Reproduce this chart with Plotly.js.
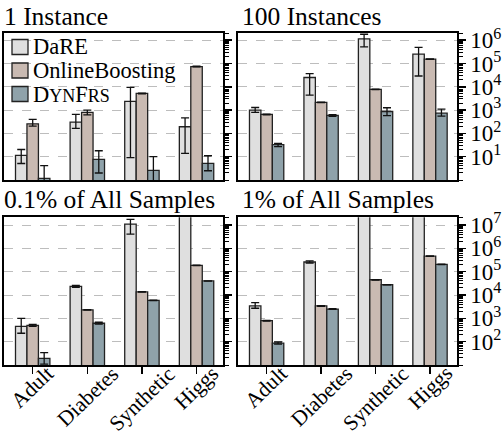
<!DOCTYPE html>
<html>
<head>
<meta charset="utf-8">
<script src="https://cdn.plot.ly/plotly-3.0.1.min.js"></script>
<style>html,body{margin:0;padding:0;background:#fff;}#chart{width:503px;height:442px;}</style>
</head>
<body>
<div id="chart"></div>
<script>
// ---------- data ----------
const categories = ['Adult', 'Diabetes', 'Synthetic', 'Higgs'];
const seriesNames = ['DaRE', 'OnlineBoosting', 'D<span style="font-size:18px">YN</span>F<span style="font-size:18px">RS</span>'];
const panelTitles = ['1 Instance', '100 Instances', '0.1% of All Samples', '1% of All Samples'];

// 1 Instance
const dare1 = [11.4, 307, 2360, 193];
const dare1Lo = [5.1, 163, 9.1, 14];
const dare1Hi = [20.4, 650, 9400, 465];
const ob1 = [258, 794, 5200, 74000];
const ob1Lo = [205, 620, 5000, 72000];
const ob1Hi = [400, 1000, 5400, 76000];
const dyn1 = [1.18, 7.7, 2.6, 5.2];
const dyn1Lo = [0.3, 2.0, 0.3, 2.5];
const dyn1Hi = [4.1, 18, 10, 11];

// 100 Instances
const dare2 = [1000, 25000, 1140000, 250000];
const dare2Lo = [800, 4400, 520000, 29000];
const dare2Hi = [1290, 37000, 1800000, 490000];
const ob2 = [650, 2140, 7700, 154000];
const ob2Lo = [630, 2080, 7500, 150000];
const ob2Hi = [670, 2200, 7900, 158000];
const dyn2 = [32.7, 590, 870, 740];
const dyn2Lo = [27, 540, 575, 550];
const dyn2Hi = [37, 640, 1260, 1100];

// 0.1% of All Samples
const dare3 = [455, 23500, 11000000, 100000000];
const dare3Lo = [230, 21500, 4100000, null];
const dare3Hi = [1000, 25500, 17500000, null];
const ob3 = [500, 2300, 13500, 186000];
const ob3Lo = [450, 2250, 13200, 182000];
const ob3Hi = [550, 2350, 13800, 190000];
const dyn3 = [19.4, 615, 5900, 40000];
const dyn3Lo = [11, 560, 5800, 39500];
const dyn3Hi = [34, 680, 6000, 40500];

// 1% of All Samples
const dare4 = [3400, 260000, 100000000, 100000000];
const dare4Lo = [2700, 235000, null, null];
const dare4Hi = [4700, 290000, null, null];
const ob4 = [790, 3400, 45000, 460000];
const ob4Lo = [760, 3300, 44000, 450000];
const ob4Hi = [820, 3500, 46000, 470000];
const dyn4 = [87, 2500, 27500, 206000];
const dyn4Lo = [78, 2400, 27000, 202000];
const dyn4Hi = [97, 2600, 28000, 210000];

const topTickVals = [10, 100, 1000, 10000, 100000, 1000000];
const topTickText = ['10<sup>1</sup>', '10<sup>2</sup>', '10<sup>3</sup>', '10<sup>4</sup>', '10<sup>5</sup>', '10<sup>6</sup>'];
const botTickVals = [100, 1000, 10000, 100000, 1000000, 10000000];
const botTickText = ['10<sup>2</sup>', '10<sup>3</sup>', '10<sup>4</sup>', '10<sup>5</sup>', '10<sup>6</sup>', '10<sup>7</sup>'];

// ---------- style ----------
const colors = ['#dfdfdf', '#c9bab2', '#8fa2aa'];
const FONT = "'Liberation Serif', 'Times New Roman', serif";

const panels = [
  [[dare1, dare1Lo, dare1Hi], [ob1, ob1Lo, ob1Hi], [dyn1, dyn1Lo, dyn1Hi]],
  [[dare2, dare2Lo, dare2Hi], [ob2, ob2Lo, ob2Hi], [dyn2, dyn2Lo, dyn2Hi]],
  [[dare3, dare3Lo, dare3Hi], [ob3, ob3Lo, ob3Hi], [dyn3, dyn3Lo, dyn3Hi]],
  [[dare4, dare4Lo, dare4Hi], [ob4, ob4Lo, ob4Hi], [dyn4, dyn4Lo, dyn4Hi]]
];

const traces = [];
panels.forEach((series, p) => {
  const ax = p === 0 ? '' : String(p + 1);
  series.forEach((s, k) => {
    const [v, lo, hi] = s;
    traces.push({
      type: 'bar',
      x: categories,
      y: v,
      name: seriesNames[k],
      showlegend: false,
      xaxis: 'x' + ax,
      yaxis: 'y' + ax,
      marker: {color: colors[k], line: {color: '#222', width: 1.3}},
      error_y: {
        type: 'data', symmetric: false,
        array: v.map((d, i) => hi[i] == null ? 0 : hi[i] - d),
        arrayminus: v.map((d, i) => lo[i] == null ? 0 : d - lo[i]),
        color: '#111', thickness: 1.3, width: 4
      }
    });
  });
});

const W = 503, H = 442;
const xDomL = [4.3 / W, 223.3 / W];
const xDomR = [238.3 / W, 456.7 / W];
const yDomT = [1 - 180 / H, 1 - 32.5 / H];
const yDomB = [1 - 365 / H, 1 - 217.3 / H];

function xax(dom, anchor, bottom) {
  return {
    domain: dom, anchor: anchor, type: 'category', range: [-0.52, 3.49],
    showline: true, mirror: true, linecolor: '#000', linewidth: 2,
    ticks: bottom ? 'outside' : '', ticklen: 7, tickwidth: 1.2, tickcolor: '#000',
    showticklabels: false, showgrid: false, zeroline: false, fixedrange: true
  };
}
function yax(dom, anchor, top, labels) {
  return {
    domain: dom, anchor: anchor, type: 'log', side: 'right',
    range: top ? [0, 6.33] : [1, 7.33],
    tickmode: 'array',
    tickvals: top ? topTickVals : botTickVals,
    ticktext: top ? topTickText : botTickText,
    showticklabels: labels,
    ticks: 'outside', ticklen: 7, tickwidth: 1.5, tickcolor: '#000',
    ticklabelstandoff: 0,
    minor: {ticks: 'outside', ticklen: 4, tickwidth: 1, tickcolor: '#000', dtick: 'D1', showgrid: false},
    tickfont: {family: FONT, size: 23, color: '#000'},
    showline: true, mirror: true, linecolor: '#000', linewidth: 2,
    showgrid: true, gridcolor: '#bdbdbd', griddash: 'dash', gridwidth: 1,
    zeroline: false, fixedrange: true
  };
}

const annotations = [];
const shapes = [];
const titlePos = [[2, 17], [240, 17], [2, 200], [240, 200]];
panelTitles.forEach((t, i) => {
  annotations.push({
    text: t, xref: 'paper', yref: 'paper',
    x: titlePos[i][0] / W, y: 1 - titlePos[i][1] / H,
    xanchor: 'left', yanchor: 'middle', showarrow: false,
    font: {family: FONT, size: 25.5, color: '#000'}
  });
});
['x3', 'x4'].forEach(xr => {
  categories.forEach(c => {
    annotations.push({
      text: c, xref: xr, yref: 'paper', x: c, y: 1 - 359 / H,
      xanchor: 'center', yanchor: 'top', textangle: -44, showarrow: false,
      font: {family: FONT, size: 21.5, color: '#000'}
    });
  });
});
// legend (inside first panel)
const legRowY = [47, 70.5, 94];
seriesNames.forEach((n, k) => {
  const cy = legRowY[k];
  shapes.push({
    type: 'rect', xref: 'paper', yref: 'paper',
    x0: 12 / W, x1: 28 / W, y0: 1 - (cy - 7.5) / H, y1: 1 - (cy + 7.5) / H,
    fillcolor: colors[k], line: {color: '#222', width: 1.3}
  });
  annotations.push({
    text: n, xref: 'paper', yref: 'paper', x: 31 / W, y: 1 - cy / H,
    xanchor: 'left', yanchor: 'middle', showarrow: false,
    font: {family: FONT, size: 22.5, color: '#000'}
  });
});

const layout = {
  width: W, height: H,
  margin: {l: 0, r: 0, t: 0, b: 0},
  paper_bgcolor: '#fff', plot_bgcolor: '#fff',
  barmode: 'group', bargap: 0.37, bargroupgap: 0,
  font: {family: FONT, color: '#000'},
  showlegend: false,
  xaxis: xax(xDomL, 'y', false),
  xaxis2: xax(xDomR, 'y2', false),
  xaxis3: xax(xDomL, 'y3', true),
  xaxis4: xax(xDomR, 'y4', true),
  yaxis: yax(yDomT, 'x', true, false),
  yaxis2: yax(yDomT, 'x2', true, true),
  yaxis3: yax(yDomB, 'x3', false, false),
  yaxis4: yax(yDomB, 'x4', false, true),
  annotations: annotations,
  shapes: shapes
};

Plotly.newPlot('chart', traces, layout, {displayModeBar: false, staticPlot: true});
</script>
</body>
</html>
